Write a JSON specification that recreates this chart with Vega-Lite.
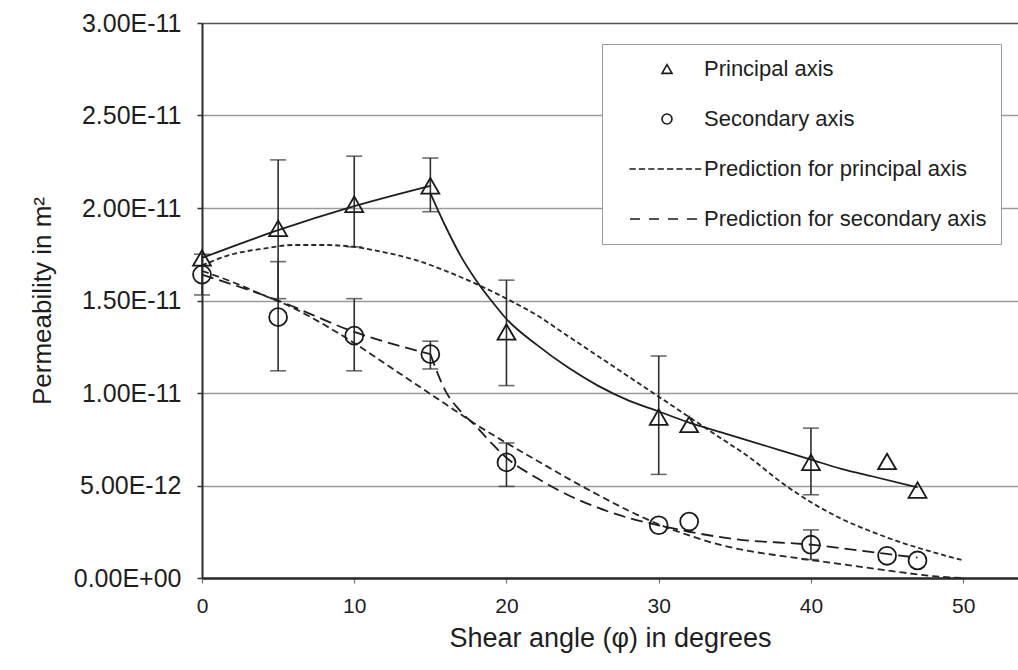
{
  "$schema": "https://vega.github.io/schema/vega-lite/v6.json",
  "width": 816,
  "height": 555,
  "autosize": {"type": "none"},
  "padding": {"left": 202, "top": 23, "right": 0, "bottom": 92},
  "background": "white",
  "config": {
    "font": "Liberation Sans",
    "view": {"stroke": null},
    "axis": {"labelColor": "#1e1e1e", "titleColor": "#1e1e1e", "titleFontWeight": "normal"}
  },
  "datasets": {
    "points": [
      {"angle": 0, "perm": 1.73e-11, "series": "Principal axis"},
      {"angle": 5, "perm": 1.89e-11, "series": "Principal axis"},
      {"angle": 10, "perm": 2.02e-11, "series": "Principal axis"},
      {"angle": 15, "perm": 2.12e-11, "series": "Principal axis"},
      {"angle": 20, "perm": 1.33e-11, "series": "Principal axis"},
      {"angle": 30, "perm": 8.7e-12, "series": "Principal axis"},
      {"angle": 32, "perm": 8.3e-12, "series": "Principal axis"},
      {"angle": 40, "perm": 6.25e-12, "series": "Principal axis"},
      {"angle": 45, "perm": 6.3e-12, "series": "Principal axis"},
      {"angle": 47, "perm": 4.75e-12, "series": "Principal axis"},
      {"angle": 0, "perm": 1.64e-11, "series": "Secondary axis"},
      {"angle": 5, "perm": 1.41e-11, "series": "Secondary axis"},
      {"angle": 10, "perm": 1.31e-11, "series": "Secondary axis"},
      {"angle": 15, "perm": 1.21e-11, "series": "Secondary axis"},
      {"angle": 20, "perm": 6.25e-12, "series": "Secondary axis"},
      {"angle": 30, "perm": 2.85e-12, "series": "Secondary axis"},
      {"angle": 32, "perm": 3.05e-12, "series": "Secondary axis"},
      {"angle": 40, "perm": 1.8e-12, "series": "Secondary axis"},
      {"angle": 45, "perm": 1.2e-12, "series": "Secondary axis"},
      {"angle": 47, "perm": 9.5e-13, "series": "Secondary axis"}
    ],
    "errors": [
      {"angle": 5, "lo": 1.51e-11, "hi": 2.26e-11},
      {"angle": 10, "lo": 1.79e-11, "hi": 2.28e-11},
      {"angle": 15, "lo": 1.98e-11, "hi": 2.27e-11},
      {"angle": 20, "lo": 1.04e-11, "hi": 1.61e-11},
      {"angle": 30, "lo": 5.6e-12, "hi": 1.2e-11},
      {"angle": 40, "lo": 4.5e-12, "hi": 8.1e-12},
      {"angle": 0, "lo": 1.53e-11, "hi": 1.75e-11},
      {"angle": 5, "lo": 1.12e-11, "hi": 1.71e-11},
      {"angle": 10, "lo": 1.12e-11, "hi": 1.51e-11},
      {"angle": 15, "lo": 1.13e-11, "hi": 1.28e-11},
      {"angle": 20, "lo": 4.95e-12, "hi": 7.3e-12},
      {"angle": 40, "lo": 1.0e-12, "hi": 2.6e-12}
    ],
    "fits": [
      {"angle": 0, "perm": 1.73e-11, "series": "P", "seg": "a"},
      {"angle": 5, "perm": 1.88e-11, "series": "P", "seg": "a"},
      {"angle": 10, "perm": 2.01e-11, "series": "P", "seg": "a"},
      {"angle": 15, "perm": 2.12e-11, "series": "P", "seg": "a"},
      {"angle": 15, "perm": 2.08e-11, "series": "P", "seg": "b"},
      {"angle": 16, "perm": 1.9e-11, "series": "P", "seg": "b"},
      {"angle": 17, "perm": 1.74e-11, "series": "P", "seg": "b"},
      {"angle": 18, "perm": 1.61e-11, "series": "P", "seg": "b"},
      {"angle": 19, "perm": 1.5e-11, "series": "P", "seg": "b"},
      {"angle": 20, "perm": 1.4e-11, "series": "P", "seg": "b"},
      {"angle": 22, "perm": 1.26e-11, "series": "P", "seg": "b"},
      {"angle": 24, "perm": 1.14e-11, "series": "P", "seg": "b"},
      {"angle": 26, "perm": 1.04e-11, "series": "P", "seg": "b"},
      {"angle": 28, "perm": 9.6e-12, "series": "P", "seg": "b"},
      {"angle": 30, "perm": 9.0e-12, "series": "P", "seg": "b"},
      {"angle": 32, "perm": 8.4e-12, "series": "P", "seg": "b"},
      {"angle": 34, "perm": 7.9e-12, "series": "P", "seg": "b"},
      {"angle": 36, "perm": 7.4e-12, "series": "P", "seg": "b"},
      {"angle": 38, "perm": 6.9e-12, "series": "P", "seg": "b"},
      {"angle": 40, "perm": 6.4e-12, "series": "P", "seg": "b"},
      {"angle": 42, "perm": 5.9e-12, "series": "P", "seg": "b"},
      {"angle": 44, "perm": 5.5e-12, "series": "P", "seg": "b"},
      {"angle": 47, "perm": 4.9e-12, "series": "P", "seg": "b"},
      {"angle": 0, "perm": 1.64e-11, "series": "S", "seg": "a"},
      {"angle": 5, "perm": 1.5e-11, "series": "S", "seg": "a"},
      {"angle": 10, "perm": 1.33e-11, "series": "S", "seg": "a"},
      {"angle": 15, "perm": 1.21e-11, "series": "S", "seg": "a"},
      {"angle": 15, "perm": 1.21e-11, "series": "S", "seg": "b"},
      {"angle": 16, "perm": 1.01e-11, "series": "S", "seg": "b"},
      {"angle": 17, "perm": 9.0e-12, "series": "S", "seg": "b"},
      {"angle": 18, "perm": 8.2e-12, "series": "S", "seg": "b"},
      {"angle": 19, "perm": 7.3e-12, "series": "S", "seg": "b"},
      {"angle": 20, "perm": 6.5e-12, "series": "S", "seg": "b"},
      {"angle": 22, "perm": 5.4e-12, "series": "S", "seg": "b"},
      {"angle": 24, "perm": 4.5e-12, "series": "S", "seg": "b"},
      {"angle": 26, "perm": 3.8e-12, "series": "S", "seg": "b"},
      {"angle": 28, "perm": 3.25e-12, "series": "S", "seg": "b"},
      {"angle": 30, "perm": 2.85e-12, "series": "S", "seg": "b"},
      {"angle": 32, "perm": 2.5e-12, "series": "S", "seg": "b"},
      {"angle": 35, "perm": 2.1e-12, "series": "S", "seg": "b"},
      {"angle": 40, "perm": 1.8e-12, "series": "S", "seg": "b"},
      {"angle": 45, "perm": 1.3e-12, "series": "S", "seg": "b"},
      {"angle": 47, "perm": 1.1e-12, "series": "S", "seg": "b"}
    ],
    "preds": [
      {"angle": 0, "perm": 1.69e-11, "series": "P"},
      {"angle": 2, "perm": 1.75e-11, "series": "P"},
      {"angle": 4, "perm": 1.78e-11, "series": "P"},
      {"angle": 6, "perm": 1.8e-11, "series": "P"},
      {"angle": 8, "perm": 1.8e-11, "series": "P"},
      {"angle": 10, "perm": 1.79e-11, "series": "P"},
      {"angle": 12, "perm": 1.76e-11, "series": "P"},
      {"angle": 14, "perm": 1.72e-11, "series": "P"},
      {"angle": 16, "perm": 1.66e-11, "series": "P"},
      {"angle": 18, "perm": 1.59e-11, "series": "P"},
      {"angle": 20, "perm": 1.51e-11, "series": "P"},
      {"angle": 22, "perm": 1.42e-11, "series": "P"},
      {"angle": 24, "perm": 1.31e-11, "series": "P"},
      {"angle": 26, "perm": 1.2e-11, "series": "P"},
      {"angle": 28, "perm": 1.09e-11, "series": "P"},
      {"angle": 30, "perm": 9.8e-12, "series": "P"},
      {"angle": 32, "perm": 8.7e-12, "series": "P"},
      {"angle": 34, "perm": 7.6e-12, "series": "P"},
      {"angle": 36, "perm": 6.5e-12, "series": "P"},
      {"angle": 38, "perm": 5.2e-12, "series": "P"},
      {"angle": 40, "perm": 4.1e-12, "series": "P"},
      {"angle": 42, "perm": 3.2e-12, "series": "P"},
      {"angle": 44, "perm": 2.5e-12, "series": "P"},
      {"angle": 46, "perm": 1.9e-12, "series": "P"},
      {"angle": 48, "perm": 1.4e-12, "series": "P"},
      {"angle": 50, "perm": 9.5e-13, "series": "P"},
      {"angle": 0, "perm": 1.66e-11, "series": "S"},
      {"angle": 2, "perm": 1.6e-11, "series": "S"},
      {"angle": 4, "perm": 1.53e-11, "series": "S"},
      {"angle": 6, "perm": 1.46e-11, "series": "S"},
      {"angle": 8, "perm": 1.37e-11, "series": "S"},
      {"angle": 10, "perm": 1.27e-11, "series": "S"},
      {"angle": 12, "perm": 1.16e-11, "series": "S"},
      {"angle": 14, "perm": 1.05e-11, "series": "S"},
      {"angle": 16, "perm": 9.4e-12, "series": "S"},
      {"angle": 18, "perm": 8.3e-12, "series": "S"},
      {"angle": 20, "perm": 7.3e-12, "series": "S"},
      {"angle": 22, "perm": 6.35e-12, "series": "S"},
      {"angle": 24, "perm": 5.4e-12, "series": "S"},
      {"angle": 26, "perm": 4.5e-12, "series": "S"},
      {"angle": 28, "perm": 3.65e-12, "series": "S"},
      {"angle": 30, "perm": 2.9e-12, "series": "S"},
      {"angle": 32, "perm": 2.3e-12, "series": "S"},
      {"angle": 34, "perm": 1.8e-12, "series": "S"},
      {"angle": 36, "perm": 1.45e-12, "series": "S"},
      {"angle": 38, "perm": 1.2e-12, "series": "S"},
      {"angle": 40, "perm": 9.7e-13, "series": "S"},
      {"angle": 42, "perm": 7.5e-13, "series": "S"},
      {"angle": 44, "perm": 5.2e-13, "series": "S"},
      {"angle": 46, "perm": 3.0e-13, "series": "S"},
      {"angle": 48, "perm": 1.0e-13, "series": "S"},
      {"angle": 50, "perm": 0, "series": "S"}
    ]
  },
  "encoding": {
    "x": {
      "field": "angle",
      "type": "quantitative",
      "title": "Shear angle (φ) in degrees",
      "scale": {"domain": [0, 53.6], "nice": false, "zero": false},
      "axis": {
        "values": [0, 10, 20, 30, 40, 50],
        "grid": false,
        "labelFontSize": 21,
        "labelPadding": 12,
        "labelFlush": false,
        "tickSize": 5,
        "tickColor": "#777777",
        "tickWidth": 1.2,
        "domainColor": "#2a2a2a",
        "domainWidth": 2.5,
        "titleFontSize": 27,
        "titlePadding": 9
      }
    }
  },
  "layer": [
    {
      "data": {"name": "errors"},
      "mark": {"type": "rule", "color": "#2e2e2e", "strokeWidth": 1.6},
      "encoding": {
        "y": {"field": "lo", "type": "quantitative", "title": "Permeability in m²", "scale": {"domain": [0, 3e-11], "nice": false}},
        "y2": {"field": "hi"}
      }
    },
    {
      "data": {"name": "errors"},
      "mark": {"type": "tick", "orient": "horizontal", "color": "#2e2e2e", "size": 16, "thickness": 1.6},
      "encoding": {
        "y": {"field": "lo", "type": "quantitative", "title": "Permeability in m²", "scale": {"domain": [0, 3e-11], "nice": false}}
      }
    },
    {
      "data": {"name": "errors"},
      "mark": {"type": "tick", "orient": "horizontal", "color": "#2e2e2e", "size": 16, "thickness": 1.6},
      "encoding": {
        "y": {"field": "hi", "type": "quantitative", "title": "Permeability in m²", "scale": {"domain": [0, 3e-11], "nice": false}}
      }
    },
    {
      "data": {"name": "preds"},
      "transform": [{"filter": "datum.series == 'P'"}],
      "mark": {"type": "line", "color": "#262626", "strokeWidth": 1.8, "strokeDash": [5, 3], "interpolate": "monotone"},
      "encoding": {
        "y": {"field": "perm", "type": "quantitative", "title": "Permeability in m²", "scale": {"domain": [0, 3e-11], "nice": false}}
      }
    },
    {
      "data": {"name": "preds"},
      "transform": [{"filter": "datum.series == 'S'"}],
      "mark": {"type": "line", "color": "#262626", "strokeWidth": 1.8, "strokeDash": [7, 4], "interpolate": "monotone"},
      "encoding": {
        "y": {"field": "perm", "type": "quantitative", "title": "Permeability in m²", "scale": {"domain": [0, 3e-11], "nice": false}}
      }
    },
    {
      "data": {"name": "fits"},
      "transform": [{"filter": "datum.series == 'P'"}],
      "mark": {"type": "line", "color": "#1e1e1e", "strokeWidth": 1.8, "interpolate": "monotone"},
      "encoding": {
        "y": {"field": "perm", "type": "quantitative", "title": "Permeability in m²", "scale": {"domain": [0, 3e-11], "nice": false}},
        "detail": {"field": "seg", "type": "nominal"}
      }
    },
    {
      "data": {"name": "fits"},
      "transform": [{"filter": "datum.series == 'S'"}],
      "mark": {"type": "line", "color": "#1e1e1e", "strokeWidth": 1.8, "strokeDash": [12, 6], "interpolate": "monotone"},
      "encoding": {
        "y": {"field": "perm", "type": "quantitative", "title": "Permeability in m²", "scale": {"domain": [0, 3e-11], "nice": false}},
        "detail": {"field": "seg", "type": "nominal"}
      }
    },
    {
      "data": {"name": "points"},
      "mark": {"type": "point", "filled": false, "stroke": "#1a1a1a", "strokeWidth": 1.8, "size": 320, "opacity": 1},
      "encoding": {
        "y": {
          "field": "perm",
          "type": "quantitative",
          "title": "Permeability in m²",
          "scale": {"domain": [0, 3e-11], "nice": false},
          "axis": {
            "values": [0, 5e-12, 1e-11, 1.5e-11, 2e-11, 2.5e-11, 3e-11],
            "labelExpr": "datum.value == 0 ? '0.00E+00' : upper(format(datum.value, '.2e'))",
            "labelFontSize": 25,
            "labelPadding": 16,
            "labelFlush": false,
            "tickSize": 5,
            "tickColor": "#333333",
            "tickWidth": 1.5,
            "domainColor": "#2a2a2a",
            "domainWidth": 2,
            "grid": true,
            "gridColor": {"condition": {"test": "datum.value > 2.9e-11", "value": "#555555"}, "value": "#9a9a9a"},
            "gridWidth": 1.5,
            "titleFontSize": 26,
            "titlePadding": 18
          }
        },
        "shape": {
          "field": "series",
          "type": "nominal",
          "scale": {
            "domain": ["Principal axis", "Secondary axis", "Prediction for principal axis", "Prediction for secondary axis"],
            "range": [
              "triangle-up",
              "circle",
              "M-7.5,0H-6.25M-5.625,0H-4.375M-3.75,0H-2.5M-1.875,0H-0.625M0,0H1.25M1.875,0H3.125M3.75,0H5M5.625,0H6.875",
              "M-7.4,0H-5.4M-3.6,0H-1.6M0.2,0H2.2M4,0H6"
            ]
          },
          "legend": {
            "title": null,
            "orient": "none",
            "legendX": 400,
            "legendY": 21,
            "fillColor": "white",
            "strokeColor": "#9a9a9a",
            "padding": 14,
            "cornerRadius": 0,
            "symbolSize": 100,
            "symbolStrokeWidth": 1.6,
            "symbolOffset": 40,
            "labelOffset": 26,
            "labelFontSize": 22,
            "labelColor": "#1e1e1e",
            "labelLimit": 400,
            "rowPadding": 28
          }
        }
      }
    }
  ]
}
